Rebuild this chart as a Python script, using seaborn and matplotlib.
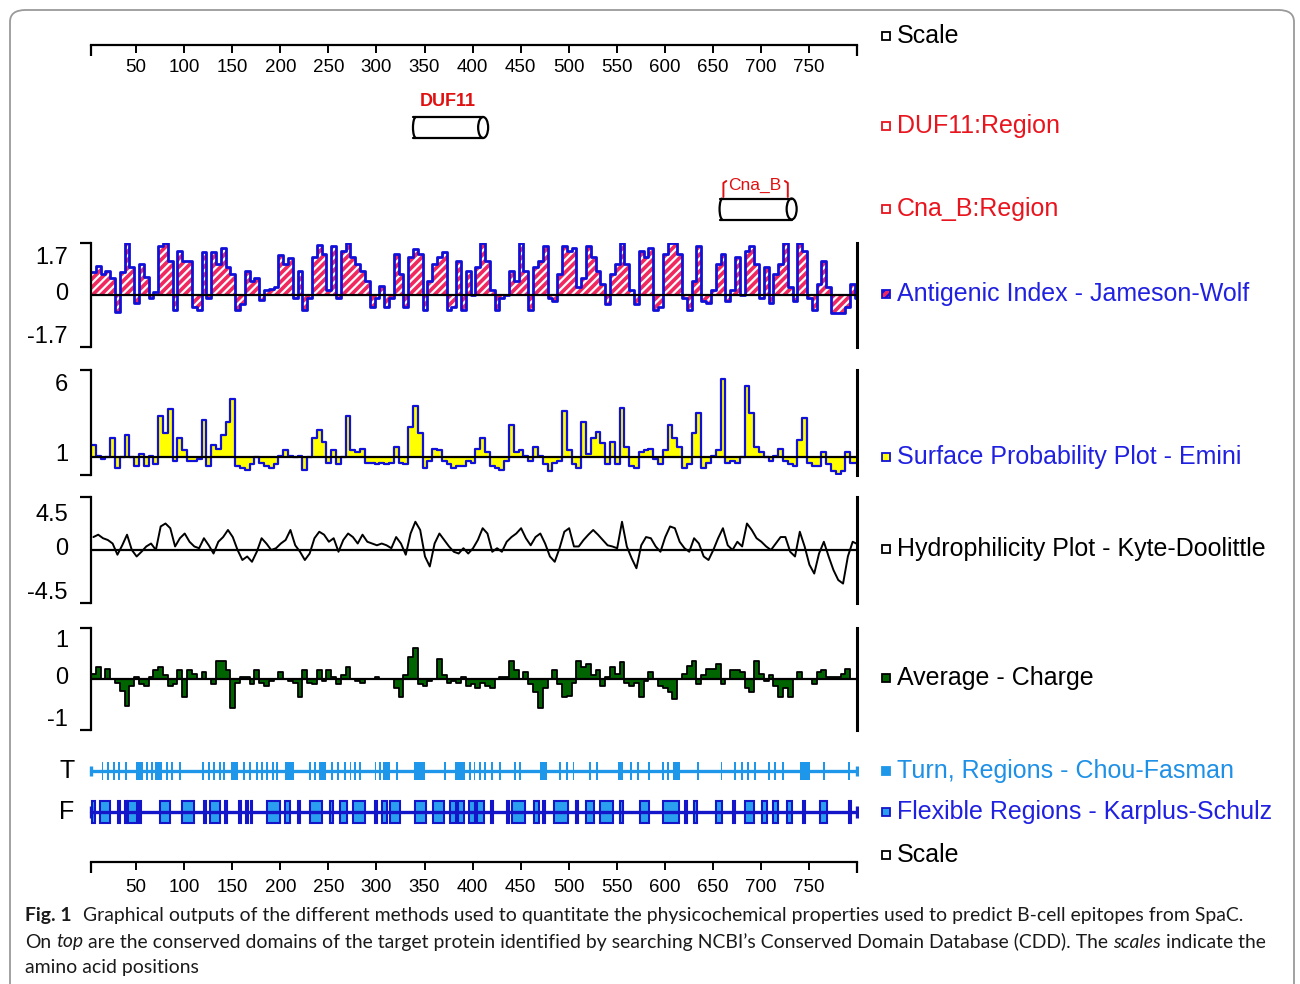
import numpy as np
import pandas as pd
import matplotlib
matplotlib.use("Agg")
import matplotlib.pyplot as plt
import seaborn as sns
from matplotlib.patches import Ellipse, Arc, Rectangle, FancyBboxPatch

# ---------------- data ----------------
scale_ticks = [50, 100, 150, 200, 250, 300, 350, 400, 450, 500, 550, 600, 650, 700, 750]
bin_start = np.arange(3, 800, 5)          # residue position of each 5-residue window

antigenic = [
    0.75, 0.95, 0.7, 0.8, 0.55, -0.55, 0.75, 1.7, 0.9, -0.25,
    1.0, 0.6, -0.1, 0.1, 1.6, 1.7, 1.1, -0.5, 1.45, 1.1,
    1.1, -0.4, -0.5, 1.4, -0.1, 1.4, 1.0, 1.55, 0.9, 0.7,
    -0.5, -0.3, 0.8, 0.45, 0.55, -0.15, 0.15, 0.2, 0.25, 1.3,
    1.0, 1.2, -0.1, 0.8, -0.5, -0.1, 1.25, 1.65, 1.35, 0.15,
    1.6, -0.1, 1.45, 1.7, 1.25, 1.0, 0.8, 0.45, -0.4, -0.1,
    0.3, -0.4, -0.1, 1.35, 0.7, -0.4, 1.25, 1.5, 1.35, -0.5,
    0.45, 1.0, 1.25, 1.4, -0.5, -0.4, 1.1, -0.5, 0.8,
    0.0, 0.9, 1.7, 1.1, 0.15, -0.5, -0.1, 0.0, 0.8, 0.45,
    1.7, 0.8, -0.5, 0.9, 1.1, 1.6, -0.1, -0.2, 0.7, 1.6,
    1.45, 1.55, 0.25, 0.55, 1.6, 1.25, 0.8, 0.35, -0.3, 0.7,
    1.0, 1.7, 1.0, 0.15, -0.3, 1.45, 1.25, 1.55, -0.5, -0.4,
    1.35, 1.7, 1.7, 1.35, -0.1, -0.5, 0.45, 1.6, -0.2, -0.25,
    0.15, 1.0, 1.35, -0.2, 0.15, 1.25, 0.0, 1.45, 1.6, 1.0,
    -0.1, 0.9, -0.25, 0.7, 1.0, 1.7, 0.25, -0.2, 1.7, 1.45,
    -0.1, -0.5, 0.35, 1.1, 0.25, -0.6, -0.6, -0.6, -0.4, 0.35,
    -0.1]

surface = [
    1.7, 1.1, 0.9, 1.0, 2.1, 0.4, 1.0, 2.3, 1.0, 0.5,
    1.2, 0.5, 1.1, 0.6, 3.35, 2.4, 3.75, 0.8, 2.1, 1.4,
    0.8, 0.8, 0.9, 3.15, 0.5, 1.7, 1.5, 2.3, 3.05, 4.35,
    0.5, 0.4, 0.3, 0.6, 1.0, 0.7, 0.5, 0.4, 0.6, 1.1,
    1.4, 1.1, 1.0, 1.1, 0.3, 1.0, 2.1, 2.55, 1.9, 0.7,
    1.4, 0.6, 1.0, 3.35, 1.4, 1.3, 1.5, 0.7, 0.7, 0.6,
    0.7, 0.6, 0.7, 1.6, 0.7, 0.6, 2.75, 3.95, 2.4, 0.4,
    0.8, 1.5, 1.4, 0.8, 0.6, 0.4, 0.5, 0.5, 0.8,
    0.7, 1.5, 2.1, 1.3, 0.5, 0.4, 0.3, 0.8, 2.85, 1.3,
    1.4, 1.1, 0.8, 1.6, 1.1, 0.6, 0.2, 0.7, 0.8, 3.65,
    1.4, 0.6, 0.4, 3.05, 1.2, 2.1, 2.45, 1.8, 0.6, 1.9,
    0.6, 3.85, 1.6, 0.5, 0.4, 1.3, 1.4, 1.5, 0.9, 0.6,
    1.4, 2.85, 2.1, 1.6, 0.4, 0.6, 2.4, 3.55, 0.4, 0.7,
    1.1, 1.4, 5.5, 0.7, 0.8, 0.7, 1.0, 5.1, 3.55, 1.6,
    1.3, 1.0, 0.8, 1.1, 1.5, 0.8, 0.6, 0.5, 2.0, 3.25,
    0.7, 0.5, 0.5, 1.3, 0.6, 0.2, 0.05, 0.2, 1.3, 0.7,
    0.7]

hydrophilicity = [
    1.1, 1.3, 1.0, 0.85, 0.55, -0.4, 0.4, 1.3, 0.0, -0.55,
    -0.15, 0.3, 0.55, 0.0, 2.0, 2.25, 1.85, 0.3, 1.0, 1.4,
    0.7, 0.3, 0.15, 1.0, 0.4, -0.3, 0.7, 1.1, 1.7, 1.1,
    0.0, -0.85, -0.55, -1.0, -0.15, 1.0, 0.55, 0.0, 0.15, 0.55,
    0.85, 1.7, 0.4, -0.15, -0.85, -0.3, 1.0, 1.55, 1.3, 0.7,
    1.0, -0.15, 0.85, 1.4, 1.1, 0.55, 1.3, 0.7, 0.55, 0.4,
    0.55, 0.4, 0.15, 1.1, 0.55, -0.4, 1.4, 2.4, 1.7, -0.55,
    -1.4, 0.55, 1.4, 0.85, 0.3, -0.15, -0.3, 0.15, -0.3,
    0.15, 0.85, 1.85, 1.4, -0.15, 0.15, -0.15, 0.7, 1.1, 1.4,
    1.85, 1.0, 0.4, 1.1, 1.4, 0.55, -0.55, -1.0, 0.15, 1.55,
    1.85, 0.3, 0.3, 0.85, 1.3, 1.7, 1.3, 0.85, 0.4, 0.3,
    0.15, 2.4, 0.3, -0.7, -1.55, 0.4, 1.1, 1.0, 0.3, -0.15,
    1.1, 2.0, 1.85, 0.7, 0.15, -0.15, 1.0, 0.55, -0.55, -0.85,
    0.0, 1.0, 1.85, 0.4, 0.0, 0.7, 0.3, 2.25, 1.7, 1.0,
    0.7, 0.3, 0.0, 0.55, 1.1, 1.1, -0.15, -0.55, 1.55, 0.3,
    -1.25, -2.0, -0.3, 0.7, -0.55, -1.7, -2.55, -2.85, -0.55, 0.7,
    0.5]

charge = [
    0.1, 0.23, 0.0, 0.2, 0.0, -0.07, -0.23, -0.53, -0.13, 0.03,
    -0.1, -0.13, 0.03, 0.17, 0.23, 0.07, -0.13, -0.1, 0.17, -0.36,
    0.17, 0.1, 0.0, 0.13, 0.0, -0.1, 0.36, 0.36, 0.17, -0.56,
    -0.07, 0.03, 0.03, -0.1, 0.17, -0.07, -0.13, -0.03, 0.0, 0.13,
    0.0, -0.03, -0.07, -0.36, 0.17, -0.07, -0.1, 0.17, -0.03, 0.17,
    0.03, -0.1, 0.07, 0.23, 0.0, -0.03, -0.07, 0.0, 0.0, 0.03,
    0.0, 0.0, 0.0, -0.17, -0.36, 0.07, 0.43, 0.6, -0.1, -0.13,
    -0.03, 0.0, 0.4, 0.07, -0.07, -0.03, -0.07, 0.03, -0.13,
    -0.1, -0.17, -0.07, -0.13, -0.17, 0.0, 0.03, 0.03, 0.36, 0.17,
    0.0, 0.13, -0.1, -0.26, -0.56, -0.17, 0.0, 0.17, -0.1, -0.36,
    -0.33, -0.07, 0.36, 0.23, 0.3, 0.07, 0.17, -0.13, 0.03, 0.23,
    0.1, 0.33, -0.07, -0.13, -0.07, -0.36, -0.03, 0.13, 0.0, -0.13,
    -0.17, -0.26, -0.4, 0.0, 0.1, 0.26, 0.36, -0.1, 0.07, 0.2,
    0.2, 0.3, -0.1, 0.0, 0.17, 0.17, 0.13, -0.17, -0.26, 0.36,
    0.1, -0.03, 0.07, -0.13, -0.36, -0.17, -0.36, 0.0, 0.13, 0.0,
    0.0, -0.1, 0.13, 0.17, 0.03, 0.03, 0.03, 0.1, 0.2, 0.0,
    0.0]

domain_names = ["DUF11", "Cna_B"]
domain_start = [338, 657]
domain_end = [411, 732]

turn_start = [14, 20, 26, 31, 38, 50, 60, 65, 70, 81, 86, 95, 119, 125, 130, 136, 140, 149, 161, 167,
              175, 180, 185, 191, 196, 205, 230, 235, 240, 253, 259, 266, 272, 277, 282, 298, 303, 307,
              320, 339, 370, 382, 396, 401, 407, 412, 419, 428, 443, 448, 470, 490, 497, 504, 521, 528,
              551, 564, 571, 583, 597, 602, 609, 634, 658, 672, 679, 686, 693, 707, 714, 722, 741, 765, 791]
turn_end = [16, 22, 28, 33, 40, 57, 62, 67, 77, 83, 88, 97, 121, 127, 132, 138, 142, 156, 163, 169,
            177, 182, 187, 193, 198, 214, 232, 237, 247, 255, 261, 268, 274, 279, 284, 300, 305, 314,
            322, 351, 372, 392, 398, 403, 409, 414, 421, 430, 445, 450, 477, 492, 499, 506, 523, 530,
            557, 566, 573, 585, 599, 604, 616, 636, 660, 674, 681, 688, 695, 709, 716, 724, 751, 767, 793]

flex_start = [4, 12, 31, 38, 42, 53, 75, 98, 121, 127, 142, 157, 164, 169, 186, 205, 218, 231, 252, 262,
              276, 299, 306, 314, 340, 359, 377, 385, 396, 405, 419, 436, 441, 464, 473, 485, 508, 518,
              533, 553, 574, 598, 621, 630, 653, 671, 683, 701, 713, 727, 744, 762, 792]
flex_end = [7, 23, 33, 40, 51, 55, 85, 110, 123, 137, 144, 159, 166, 171, 200, 210, 220, 243, 255, 269,
            288, 301, 311, 325, 352, 370, 383, 391, 403, 412, 421, 438, 455, 469, 475, 499, 510, 526,
            546, 557, 584, 615, 623, 634, 660, 673, 693, 706, 718, 732, 746, 769, 794]

# ---------------- layout helpers ----------------
sns.set_theme(style="white")
plt.rcParams["font.family"] = ["Liberation Sans", "DejaVu Sans"]
plt.rcParams["hatch.linewidth"] = 1.6

W, H = 1300, 984
fig = plt.figure(figsize=(13, 9.84), dpi=100)
fig.patch.set_facecolor("white")
XL, XR = 91, 857
XMIN, XMAX = 3, 800

def add_ax(x0, y0, x1, y1):
    a = fig.add_axes([x0 / W, 1 - y1 / H, (x1 - x0) / W, (y1 - y0) / H])
    a.patch.set_alpha(0)
    return a

def ftext(x, y, s, **kw):
    kw.setdefault("va", "center")
    return fig.text(x / W, 1 - y / H, s, **kw)

# caption box
fig.patches.append(FancyBboxPatch((10 / W, -0.05), (1284) / W, 1 - 10 / H + 0.05,
                                  boxstyle="round,pad=0,rounding_size=0.012",
                                  transform=fig.transFigure, fill=False,
                                  edgecolor="#9a9a9a", linewidth=1.3))

# ---------------- scales ----------------
def scale_axis(ytop, ylab):
    ax = add_ax(XL, ytop, XR, ytop + 12)
    ax.set_xlim(XMIN, XMAX)
    ax.set_ylim(0, 1)
    for s in ["left", "right", "bottom"]:
        ax.spines[s].set_visible(False)
    ax.spines["top"].set_color("black")
    ax.spines["top"].set_linewidth(1.6)
    ax.xaxis.set_ticks_position("top")
    ax.set_xticks(scale_ticks)
    ax.tick_params(axis="x", direction="in", length=6, width=1.4, colors="black",
                   labeltop=False, labelbottom=False, top=True, bottom=False)
    ax.set_yticks([])
    ax.vlines([XMIN, XMAX], 0.1, 1, color="black", lw=1.6, clip_on=False)
    tr = ax.get_xaxis_transform()
    yl = 1 - (ylab - ytop) / 12
    for t in scale_ticks:
        ax.text(t, yl, str(t), transform=tr, ha="center", va="center", fontsize=13.5,
                color="black", clip_on=False)
    return ax

scale_axis(45, 68)
scale_axis(862, 887)

# ---------------- domains ----------------
axd = add_ax(XL, 85, XR, 232)
axd.set_xlim(XMIN, XMAX)
axd.set_ylim(232, 85)
axd.axis("off")
px = (XMAX - XMIN) / (XR - XL)        # residues per pixel
dom_y = [127.5, 209]
for name, s, e, yc in zip(domain_names, domain_start, domain_end, dom_y):
    h = 21
    axd.plot([s, e], [yc - h / 2, yc - h / 2], color="black", lw=1.6)
    axd.plot([s, e], [yc + h / 2, yc + h / 2], color="black", lw=1.6)
    axd.add_patch(Arc((s + 3 * px, yc), 6 * px, h, theta1=90, theta2=270, color="black", lw=1.6))
    axd.add_patch(Ellipse((e, yc), 10 * px, h, facecolor="white", edgecolor="black", lw=1.6))
axd.text((domain_start[0] + domain_end[0]) / 2, 101, domain_names[0], color="#e01010",
         fontsize=13, ha="center", va="center", fontweight="bold")
cs, ce = domain_start[1] + 4, domain_end[1] - 4
axd.text((cs + ce) / 2 - 1, 185, domain_names[1], color="#e01010", fontsize=12.5,
         ha="center", va="center")
axd.plot([cs, cs, cs + 3], [197, 183, 181], color="#e01010", lw=1.4)
axd.plot([ce, ce, ce - 3], [197, 183, 181], color="#e01010", lw=1.4)

# ---------------- profile panels ----------------
df = pd.DataFrame({"pos": bin_start, "antigenic": antigenic, "surface": surface,
                   "hydro": hydrophilicity, "charge": charge})
last = df.iloc[[-1]].copy()
last["pos"] = XMAX
dstep = pd.concat([df, last], ignore_index=True)

def panel(y0, y1, ylo, yhi):
    ax = add_ax(XL, y0, XR, y1)
    ax.set_xlim(XMIN, XMAX)
    ax.set_ylim(ylo, yhi)
    for s in ["top", "bottom"]:
        ax.spines[s].set_visible(False)
    ax.spines["left"].set_color("black")
    ax.spines["left"].set_linewidth(1.6)
    ax.spines["right"].set_color("black")
    ax.spines["right"].set_linewidth(2.2)
    ax.set_xticks([])
    ax.set_yticks([ylo, yhi])
    ax.set_yticklabels([])
    ax.tick_params(axis="y", direction="out", length=8, width=1.6, colors="black",
                   left=True, right=False)
    return ax

# Antigenic index
ax1 = panel(243, 347, -1.7, 1.7)
ax1.fill_between(dstep["pos"], dstep["antigenic"], 0, step="post", facecolor="#f0285e",
                 edgecolor="white", hatch="////", linewidth=0)
sns.lineplot(data=dstep, x="pos", y="antigenic", ax=ax1, drawstyle="steps-post",
             estimator=None, color="#1010d8", linewidth=2.0)
ax1.axhline(0, color="black", lw=1.6)
ax1.set_xlabel(""); ax1.set_ylabel("")

# Surface probability
ax2 = panel(370, 475, 0, 6)
ax2.fill_between(dstep["pos"], dstep["surface"], 1, step="post", facecolor="#ffff00",
                 linewidth=0)
sns.lineplot(data=dstep, x="pos", y="surface", ax=ax2, drawstyle="steps-post",
             estimator=None, color="#1010d8", linewidth=1.6)
ax2.axhline(1, color="black", lw=1.6)
ax2.set_xlabel(""); ax2.set_ylabel("")

# Hydrophilicity
ax3 = panel(497, 603, -4.5, 4.5)
sns.lineplot(x=df["pos"] + 2.5, y=df["hydro"], ax=ax3, estimator=None,
             color="black", linewidth=1.4)
ax3.axhline(0, color="black", lw=1.6)
ax3.set_xlabel(""); ax3.set_ylabel("")

# Charge
ax4 = panel(628, 730, -1, 1)
ax4.fill_between(dstep["pos"], dstep["charge"], 0, step="post", facecolor="#006400",
                 linewidth=0)
sns.lineplot(data=dstep, x="pos", y="charge", ax=ax4, drawstyle="steps-post",
             estimator=None, color="black", linewidth=1.3)
ax4.axhline(0, color="black", lw=1.6)
ax4.set_xlabel(""); ax4.set_ylabel("")

# y labels
ylabels = [("1.7", 258), ("0", 294), ("-1.7", 337), ("6", 385), ("1", 455),
           ("4.5", 515), ("0", 549), ("-4.5", 593), ("1", 641), ("0", 678), ("-1", 720)]
for s, y in ylabels:
    ftext(68, y, s, ha="right", fontsize=17, color="black")

# ---------------- region rows ----------------
def region_row(yc, starts, ends, face, edge, linecolor, half):
    ax = add_ax(XL - 2, yc - 15, XR + 2, yc + 15)
    ax.set_xlim(XMIN - 2 * px, XMAX + 2 * px)
    ax.set_ylim(-15, 15)
    ax.axis("off")
    sns.lineplot(x=[XMIN, XMAX], y=[0, 0], ax=ax, color=linecolor, linewidth=2.4)
    ax.vlines([XMIN, XMAX], -half * 0.55, half * 0.55, color=linecolor, lw=2.4)
    widths = [e - s for s, e in zip(starts, ends)]
    ax.bar(starts, [2 * half] * len(starts), width=widths, bottom=-half, align="edge",
           color=face, edgecolor=edge, linewidth=1.5 if edge != "none" else 0)
    return ax

region_row(771, turn_start, turn_end, "#1e96ea", "none", "#1e96ea", 9)
region_row(812, flex_start, flex_end, "#2a9ff0", "#1414c8", "#1414c8", 11)
ftext(75, 771, "T", ha="right", fontsize=18, color="black")
ftext(74, 812, "F", ha="right", fontsize=18, color="black")

# ---------------- right-hand labels ----------------
legend = [
    ("Scale", 36, "black", "white", "black", None),
    ("DUF11:Region", 126, "#e8141e", "white", "#e8141e", None),
    ("Cna_B:Region", 209, "#e8141e", "white", "#e8141e", None),
    ("Antigenic Index - Jameson-Wolf", 294, "#2020e0", "#f0285e", "#1010d8", "////"),
    ("Surface Probability Plot - Emini", 457, "#2020e0", "#ffff00", "#1010d8", None),
    ("Hydrophilicity Plot - Kyte-Doolittle", 549, "black", "white", "black", None),
    ("Average - Charge", 678, "black", "#006400", "black", None),
    ("Turn, Regions - Chou-Fasman", 771, "#1e90e6", "#1e96ea", "#1e96ea", None),
    ("Flexible Regions - Karplus-Schulz", 812, "#2020e0", "#2a9ff0", "#1414c8", None),
    ("Scale", 855, "black", "white", "black", None),
]
for s, y, tc, fc, ec, hatch in legend:
    fig.patches.append(Rectangle((882 / W, 1 - (y + 4) / H), 8 / W, 8 / H,
                                 transform=fig.transFigure, facecolor=fc, edgecolor=ec,
                                 linewidth=1.3, hatch=hatch))
    ftext(897, y, s, ha="left", fontsize=18, color=tc)

# ---------------- caption ----------------
cap_font = ["Lato", "DejaVu Sans"]
cap_size = 13.95
renderer = fig.canvas.get_renderer()

def tw(s, **kw):
    t = fig.text(0, 0, s, fontsize=cap_size, family=cap_font, **kw)
    w = t.get_window_extent(renderer=renderer).width
    t.remove()
    return w

space_w = tw("x x") - tw("xx")

def rich_line(x, y, pieces, gap=None):
    for i, (s, kw) in enumerate(pieces):
        t = ftext(x, y, s, ha="left", fontsize=cap_size, family=cap_font, color="#1a1a1a", **kw)
        x += t.get_window_extent(renderer=renderer).width + space_w
        if i == 0 and gap is not None:
            x += gap

N = {}
I = {"fontstyle": "italic"}
B = {"fontweight": "bold"}
rich_line(25, 916, [("Fig. 1", B),
                    ("Graphical outputs of the different methods used to quantitate the physicochemical properties used to predict B-cell epitopes from SpaC.", N)],
          gap=6)
rich_line(25, 942, [("On", N), ("top", I),
                    ("are the conserved domains of the target protein identified by searching NCBI\u2019s Conserved Domain Database (CDD). The", N),
                    ("scales", I), ("indicate the", N)])
rich_line(25, 968, [("amino acid positions", N)])

fig.savefig("out.png", dpi=100, facecolor="white")
